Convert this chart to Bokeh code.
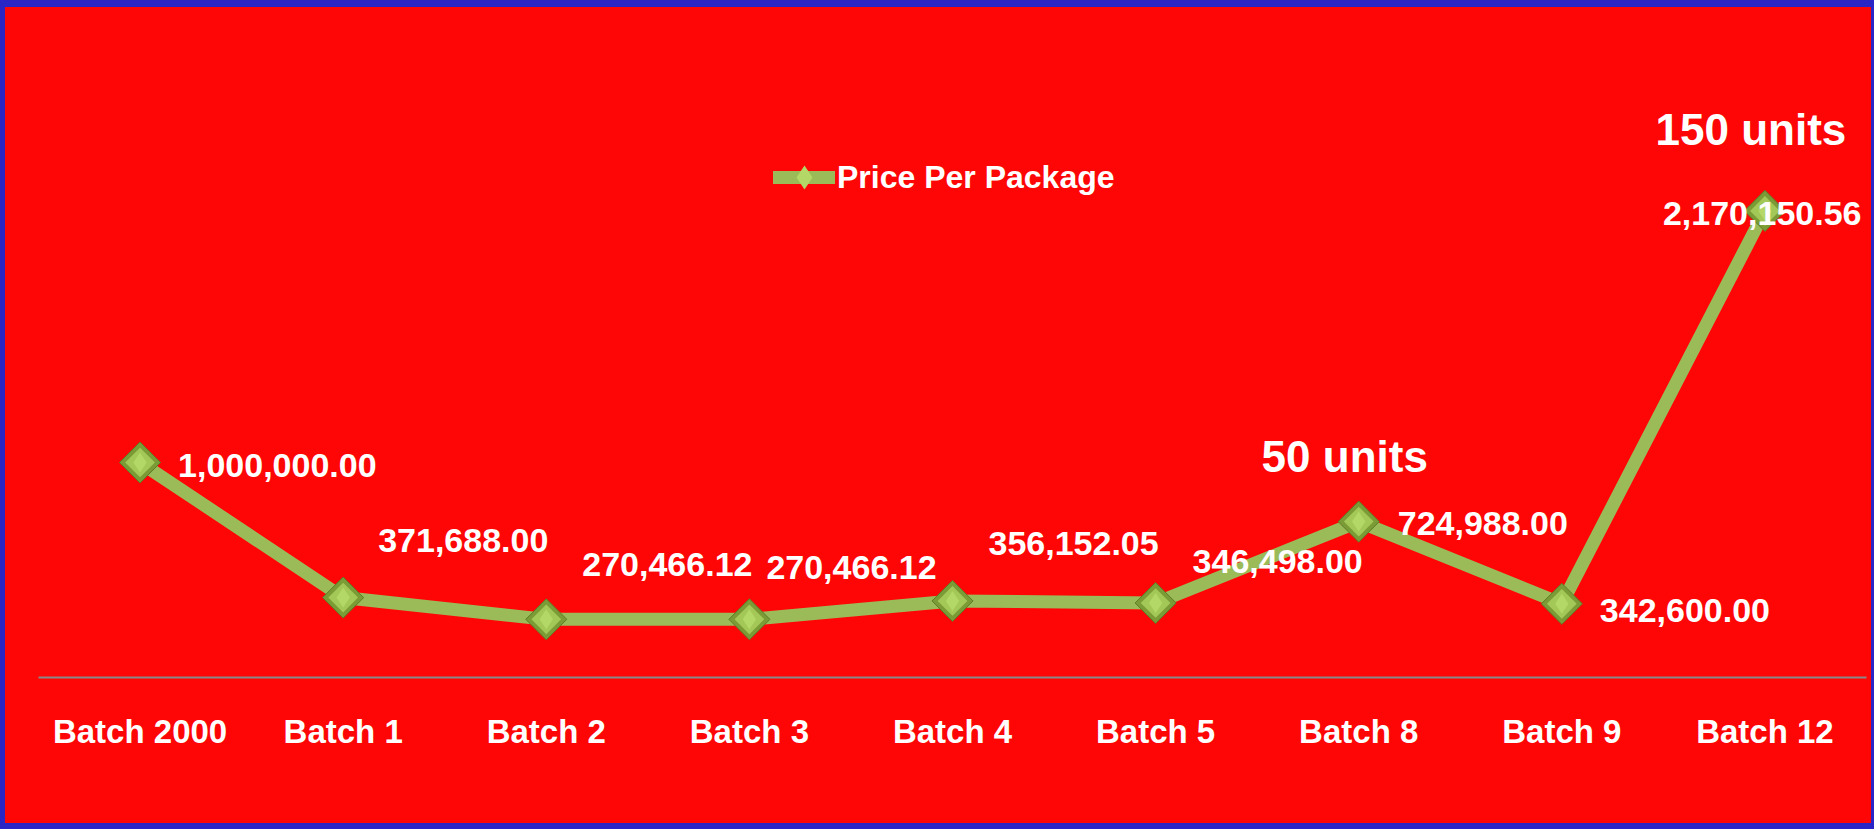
import numpy as np
from bokeh.plotting import figure
from bokeh.models import ColumnDataSource, Range1d, Legend, LegendItem, Spacer
from bokeh.layouts import column, row
from bokeh.core.properties import value
from bokeh.embed import file_html
from bokeh.resources import INLINE

# ---- data ----
batches = ["Batch 2000", "Batch 1", "Batch 2", "Batch 3", "Batch 4",
           "Batch 5", "Batch 8", "Batch 9", "Batch 12"]
prices = [1000000.00, 371688.00, 270466.12, 270466.12, 356152.05,
          346498.00, 724988.00, 342600.00, 2170150.56]
price_labels = ["1,000,000.00", "371,688.00", "270,466.12", "270,466.12",
                "356,152.05", "346,498.00", "724,988.00", "342,600.00",
                "2,170,150.56"]
note_batches = ["Batch 8", "Batch 12"]
note_values = [724988.00, 2170150.56]
note_texts = ["50 units", "150 units"]
series_name = "Price Per Package"

# ---- label placement (screen pixels) ----
label_dx = [38, 35, 36, 17, 36, 37, 39, 38, -102]
label_dy = [3, -57, -55, -52, -57, -41, 2, 7, 3]
note_dx = [-14, -14]
note_dy = [-65, -81]

FONT = "Liberation Sans"
RED = "#fe0606"
GREEN = "#9bbb59"

src = ColumnDataSource(dict(batch=batches, price=prices, label=price_labels,
                            dx=label_dx, dy=label_dy))
note_src = ColumnDataSource(dict(batch=note_batches, price=note_values,
                                 text=note_texts, dx=note_dx, dy=note_dy))

p = figure(x_range=batches, y_range=Range1d(0, 2930000),
           width=1866, height=816, output_backend="svg", toolbar_location=None,
           y_axis_location=None, min_border_left=33, min_border_right=5,
           min_border_top=40, min_border_bottom=146,
           styles={"background-color": RED})
p.background_fill_alpha = 0
p.border_fill_alpha = 0
p.outline_line_color = None
p.xgrid.grid_line_color = None
p.ygrid.grid_line_color = None

ax = p.xaxis[0]
ax.axis_line_color = "#888888"
ax.axis_line_width = 2
ax.major_tick_line_color = None
ax.minor_tick_line_color = None
ax.major_label_text_color = "white"
ax.major_label_text_font = FONT
ax.major_label_text_font_style = "bold"
ax.major_label_text_font_size = "33px"
ax.major_label_standoff = 29

line_r = p.line("batch", "price", source=src, line_color=GREEN, line_width=13,
                line_join="round", line_cap="round")
outer_r = p.scatter("batch", "price", source=src, marker="square", angle=np.pi / 4,
                    size=29, fill_color="#7b9b37", line_color="#5e7b27", line_width=1)
inner_r = p.scatter("batch", "price", source=src, marker="square", angle=np.pi / 4,
                    size=21, fill_color="#a3c857", line_color=None)
hi_r = p.scatter("batch", "price", source=src, marker="diamond", size=20,
                 fill_color="#b3d867", line_color=None)

p.text("batch", "price", text="label", source=src, x_offset="dx", y_offset="dy",
       text_align="left", text_baseline="middle", text_color="white",
       text_font=value(FONT), text_font_style="bold", text_font_size="34px")
p.text("batch", "price", text="text", source=note_src, x_offset="dx", y_offset="dy",
       text_align="center", text_baseline="middle", text_color="white",
       text_font=value(FONT), text_font_style="bold", text_font_size="44px")

legend = Legend(items=[LegendItem(label=series_name, renderers=[line_r, hi_r])],
                location=(735, 470), orientation="horizontal", glyph_width=62,
                glyph_height=60, label_standoff=2, padding=0, margin=0,
                background_fill_alpha=0, border_line_color=None,
                label_text_color="white", label_text_font=FONT,
                label_text_font_style="bold", label_text_font_size="32px")
p.add_layout(legend)

layout = column(Spacer(height=7, width=1874), row(Spacer(width=5, height=816), p),
                styles={"background-color": "#2a26c6"}, width=1874, height=829)

open("out.html", "w").write(file_html(layout, INLINE))
